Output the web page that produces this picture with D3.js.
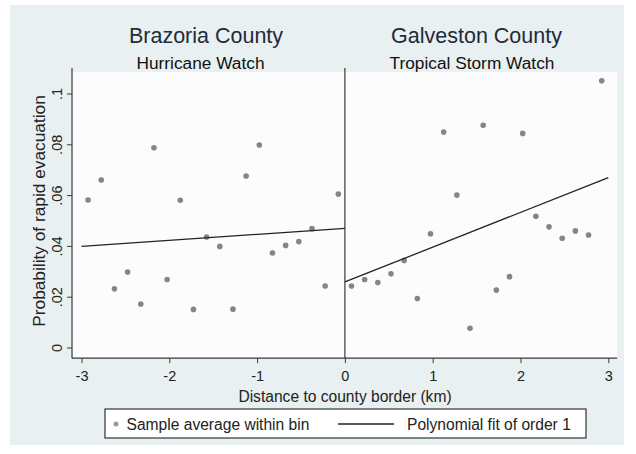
<!DOCTYPE html>
<html>
<head>
<meta charset="utf-8">
<script src="https://cdn.jsdelivr.net/npm/d3@7/dist/d3.min.js"></script>
<style>
  html, body { margin: 0; padding: 0; background: #ffffff; }
  svg { display: block; font-family: "Liberation Sans", Arial, Helvetica, sans-serif; }
</style>
</head>
<body>
<svg id="chart" width="636" height="454"></svg>
<script>
// Bin midpoints (km from the county border) and bin averages
const leftBins = [-2.925, -2.775, -2.625, -2.475, -2.325, -2.175, -2.025, -1.875, -1.725, -1.575,
                  -1.425, -1.275, -1.125, -0.975, -0.825, -0.675, -0.525, -0.375, -0.225, -0.075];
const leftAvg  = [0.0581, 0.0659, 0.0231, 0.0297, 0.0171, 0.0786, 0.0268, 0.0580, 0.0150, 0.0435,
                  0.0398, 0.0151, 0.0675, 0.0797, 0.0372, 0.0402, 0.0417, 0.0468, 0.0242, 0.0604];
const rightBins = [0.075, 0.225, 0.375, 0.525, 0.675, 0.825, 0.975, 1.125, 1.275, 1.425,
                   1.575, 1.725, 1.875, 2.025, 2.175, 2.325, 2.475, 2.625, 2.775, 2.925];
const rightAvg  = [0.0242, 0.0268, 0.0256, 0.0290, 0.0343, 0.0193, 0.0448, 0.0848, 0.0600, 0.0076,
                   0.0875, 0.0226, 0.0279, 0.0843, 0.0517, 0.0475, 0.0430, 0.0459, 0.0443, 0.1050];
// Linear fits on each side of the border: [x, y] endpoints
const leftFit  = [[-3, 0.0398], [0, 0.0469]];
const rightFit = [[0, 0.0258], [3, 0.0669]];

const xTicks = [-3, -2, -1, 0, 1, 2, 3];
const xTickLabels = ["-3", "-2", "-1", "0", "1", "2", "3"];
const yTicks = [0, 0.02, 0.04, 0.06, 0.08, 0.1];
const yTickLabels = ["0", ".02", ".04", ".06", ".08", ".1"];
const panelTitles = ["Brazoria County", "Galveston County"];
const panelSubtitles = ["Hurricane Watch", "Tropical Storm Watch"];
const legendLabels = ["Sample average within bin", "Polynomial fit of order 1"];

const svg = d3.select("#chart");

const x = d3.scaleLinear().domain([-3, 3]).range([81.5, 608.3]);
const y = d3.scaleLinear().domain([0, 0.1]).range([347.5, 93.5]);

// plot region bounds (data range plus margins)
const px0 = x(-3.108), px1 = x(3.1);
const py0 = y(-0.0042), py1 = y(0.1085);

// outer graph region
svg.append("rect").attr("x", 10).attr("y", 5).attr("width", 614).attr("height", 440)
  .attr("fill", "#e9f0f1");
svg.append("rect").attr("x", px0).attr("y", py1).attr("width", px1 - px0).attr("height", py0 - py1)
  .attr("fill", "#fdfcfc");

// axes
const xAxis = d3.axisBottom(x).tickValues(xTicks).tickSize(5).tickSizeOuter(0).tickPadding(8)
  .tickFormat((d, i) => xTickLabels[i]);
const gx = svg.append("g").attr("transform", `translate(0,${py0})`).call(xAxis);
gx.select(".domain").remove();
gx.append("line").attr("x1", px0).attr("x2", px1).attr("y1", 0).attr("y2", 0)
  .attr("stroke", "#3a3a3a").attr("stroke-width", 1.2);
gx.selectAll(".tick line").attr("stroke", "#3a3a3a");
gx.selectAll(".tick text").attr("fill", "#222").attr("font-size", 14.5)
  .attr("font-family", "Liberation Sans, Arial, sans-serif");

const yAxis = d3.axisLeft(y).tickValues(yTicks).tickSize(5).tickSizeOuter(0)
  .tickFormat((d, i) => yTickLabels[i]);
const gy = svg.append("g").attr("transform", `translate(${px0},0)`).call(yAxis);
gy.select(".domain").remove();
gy.append("line").attr("x1", 0).attr("x2", 0).attr("y1", py1 - 4).attr("y2", py0)
  .attr("stroke", "#3a3a3a").attr("stroke-width", 1.2);
gy.selectAll(".tick line").attr("stroke", "#3a3a3a");
gy.selectAll(".tick text")
  .attr("fill", "#222").attr("font-size", 14.5)
  .attr("font-family", "Liberation Sans, Arial, sans-serif")
  .attr("x", null).attr("dy", null)
  .attr("text-anchor", "middle")
  .attr("transform", "translate(-10.5,0) rotate(-90)");

// border line at distance 0
svg.append("line").attr("x1", x(0)).attr("x2", x(0)).attr("y1", py1 - 4).attr("y2", py0)
  .attr("stroke", "#3a3a3a").attr("stroke-width", 1.2);

// binned averages
const pts = leftBins.map((b, i) => [b, leftAvg[i]]).concat(rightBins.map((b, i) => [b, rightAvg[i]]));
const defs = svg.append("defs");
defs.append("filter").attr("id", "soft").append("feGaussianBlur").attr("stdDeviation", 0.6);
svg.append("g").attr("filter", "url(#soft)")
  .selectAll("circle").data(pts).join("circle")
  .attr("cx", d => x(d[0])).attr("cy", d => y(d[1])).attr("r", 2.8)
  .attr("fill", "#858585");

// fitted lines
const line = d3.line().x(d => x(d[0])).y(d => y(d[1]));
[leftFit, rightFit].forEach(f => {
  svg.append("path").attr("d", line(f)).attr("fill", "none")
    .attr("stroke", "#222").attr("stroke-width", 1.3);
});

// panel titles
const titleX = [206, 476.5];
const subtitleX = [200.5, 472];
panelTitles.forEach((t, i) => {
  svg.append("text").attr("x", titleX[i]).attr("y", 42.7).attr("text-anchor", "middle")
    .attr("font-size", 21.5).attr("fill", "#1f2a3a").text(t);
  svg.append("text").attr("x", subtitleX[i]).attr("y", 69).attr("text-anchor", "middle")
    .attr("font-size", 17.3).attr("fill", "#111").text(panelSubtitles[i]);
});

// axis titles
svg.append("text").attr("x", 345).attr("y", 402).attr("text-anchor", "middle")
  .attr("font-size", 15.6).attr("fill", "#222").text("Distance to county border (km)");
svg.append("text").attr("transform", "translate(44.5,211) rotate(-90)").attr("text-anchor", "middle")
  .attr("font-size", 17.3).attr("fill", "#222").text("Probability of rapid evacuation");

// legend
const lg = svg.append("g");
lg.append("rect").attr("x", 105).attr("y", 409).attr("width", 481).attr("height", 29)
  .attr("fill", "#ffffff").attr("stroke", "#333").attr("stroke-width", 1.2);
lg.append("circle").attr("cx", 116).attr("cy", 424).attr("r", 2.5).attr("fill", "#9a9a9a")
  .attr("filter", "url(#soft)");
lg.append("text").attr("x", 126.5).attr("y", 429.5).attr("font-size", 15.6).attr("fill", "#222")
  .text(legendLabels[0]);
lg.append("line").attr("x1", 338).attr("x2", 394).attr("y1", 424).attr("y2", 424)
  .attr("stroke", "#222").attr("stroke-width", 1.3);
lg.append("text").attr("x", 407).attr("y", 429.5).attr("font-size", 15.6).attr("fill", "#222")
  .text(legendLabels[1]);
</script>
</body>
</html>
